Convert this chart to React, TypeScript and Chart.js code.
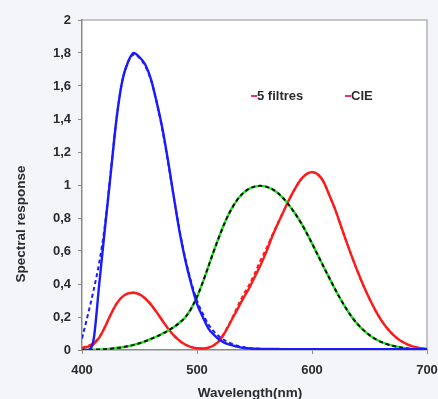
import React, { useEffect, useRef } from "react";
import { Chart, registerables } from "chart.js";

Chart.register(...registerables);

// Wavelength samples (nm)
const wavelengths = [
  400, 405, 410, 415, 420, 425, 430, 435, 440, 445, 450, 455, 460, 465, 470, 475,
  480, 485, 490, 495, 500, 505, 510, 515, 520, 525, 530, 535, 540, 545, 550, 555,
  560, 565, 570, 575, 580, 585, 590, 595, 600, 605, 610, 615, 620, 625, 630, 635,
  640, 645, 650, 655, 660, 665, 670, 675, 680, 685, 690, 695, 700,
];

// Blue channel: 5 filters / CIE
const blueFilters = [
  0, 0, 0.06, 0.4, 0.74, 1.07, 1.4, 1.63, 1.745, 1.8, 1.775, 1.73, 1.64, 1.5, 1.34, 1.14,
  0.92, 0.71, 0.54, 0.4, 0.28, 0.2, 0.13, 0.09, 0.06, 0.04, 0.03, 0.02, 0.013, 0.01, 0.008, 0.007,
  0.006, 0.006, 0.006, 0.005, 0.005, 0.005, 0.005, 0.005, 0.005, 0.005, 0.005, 0.005, 0.005, 0.005, 0.005, 0.005,
  0.005, 0.005, 0.005, 0.005, 0.005, 0.005, 0.005, 0.005, 0.005, 0.005, 0.005, 0.005, 0.005,
];
const blueCIE = [
  0.07, 0.21, 0.36, 0.53, 0.76, 1.08, 1.4, 1.63, 1.745, 1.79, 1.77, 1.72, 1.635, 1.5, 1.33, 1.13,
  0.92, 0.72, 0.55, 0.41, 0.3, 0.22, 0.155, 0.11, 0.078, 0.055, 0.038, 0.026, 0.018, 0.012, 0.009, 0.007,
  0.006, 0.006, 0.006, 0.005, 0.005, 0.005, 0.005, 0.005, 0.005, 0.005, 0.005, 0.005, 0.005, 0.005, 0.005, 0.005,
  0.005, 0.005, 0.005, 0.005, 0.005, 0.005, 0.005, 0.005, 0.005, 0.005, 0.005, 0.005, 0.005,
];

// Green channel: 5 filters / CIE
const greenFilters = [
  0, 0.001, 0.002, 0.003, 0.005, 0.008, 0.012, 0.017, 0.023, 0.031, 0.041, 0.053, 0.067, 0.082, 0.099, 0.118,
  0.14, 0.166, 0.2, 0.252, 0.322, 0.41, 0.508, 0.607, 0.7, 0.785, 0.855, 0.91, 0.95, 0.976, 0.99, 0.995,
  0.99, 0.976, 0.953, 0.92, 0.878, 0.83, 0.776, 0.714, 0.646, 0.576, 0.506, 0.437, 0.37, 0.306, 0.248, 0.197,
  0.154, 0.119, 0.09, 0.067, 0.049, 0.036, 0.026, 0.018, 0.012, 0.008, 0.005, 0.003, 0.002,
];
const greenCIE = [
  0, 0.001, 0.002, 0.003, 0.005, 0.008, 0.012, 0.017, 0.023, 0.031, 0.041, 0.053, 0.067, 0.082, 0.099, 0.118,
  0.14, 0.166, 0.2, 0.252, 0.322, 0.41, 0.508, 0.607, 0.7, 0.785, 0.855, 0.91, 0.95, 0.976, 0.99, 0.995,
  0.99, 0.976, 0.953, 0.92, 0.878, 0.83, 0.776, 0.714, 0.646, 0.576, 0.506, 0.437, 0.37, 0.306, 0.248, 0.197,
  0.154, 0.119, 0.09, 0.067, 0.049, 0.036, 0.026, 0.018, 0.012, 0.008, 0.005, 0.003, 0.002,
];

// Red channel: 5 filters / CIE
const redFilters = [
  0.01, 0.02, 0.035, 0.075, 0.14, 0.215, 0.28, 0.322, 0.343, 0.347, 0.337, 0.312, 0.275, 0.228, 0.177, 0.128,
  0.087, 0.055, 0.032, 0.018, 0.011, 0.009, 0.014, 0.03, 0.06, 0.115, 0.18, 0.245, 0.31, 0.37, 0.44, 0.51,
  0.59, 0.68, 0.76, 0.835, 0.91, 0.975, 1.03, 1.065, 1.078, 1.065, 1.02, 0.94, 0.855, 0.755, 0.655, 0.56,
  0.47, 0.386, 0.31, 0.242, 0.183, 0.135, 0.096, 0.066, 0.044, 0.028, 0.017, 0.01, 0.006,
];
const redCIE = [
  0.014, 0.025, 0.043, 0.08, 0.14, 0.215, 0.28, 0.322, 0.343, 0.347, 0.337, 0.312, 0.275, 0.228, 0.177, 0.128,
  0.087, 0.055, 0.032, 0.018, 0.011, 0.009, 0.014, 0.03, 0.062, 0.12, 0.185, 0.26, 0.33, 0.39, 0.46, 0.54,
  0.61, 0.69, 0.765, 0.838, 0.91, 0.975, 1.03, 1.065, 1.078, 1.065, 1.02, 0.94, 0.855, 0.755, 0.655, 0.56,
  0.47, 0.386, 0.31, 0.242, 0.183, 0.135, 0.096, 0.066, 0.044, 0.028, 0.017, 0.01, 0.006,
];

const legendLabels = ["5 filtres", "CIE"];
const xTitle = "Wavelength(nm)";
const yTitle = "Spectral response";

const FONT = "'Liberation Sans', Arial, sans-serif";
const TEXT = "#2b2b2b";

const toPoints = (ys: number[]) => ys.map((y, i) => ({ x: wavelengths[i], y }));

const solid = (label: string, ys: number[], color: string) => ({
  label,
  data: toPoints(ys),
  borderColor: color,
  borderWidth: 2.4,
  pointRadius: 0,
  fill: false,
  cubicInterpolationMode: "monotone" as const,
});

const dashed = (label: string, ys: number[], color: string) => ({
  label,
  data: toPoints(ys),
  borderColor: color,
  borderWidth: 2,
  borderDash: [4, 3],
  pointRadius: 0,
  fill: false,
  cubicInterpolationMode: "monotone" as const,
});

const framePlugin = {
  id: "frame",
  beforeDraw(chart: any) {
    const { ctx, chartArea: a, width, height } = chart;
    ctx.save();
    ctx.fillStyle = "#f3f5f9";
    ctx.fillRect(0, 0, width, height);
    ctx.fillStyle = "#ffffff";
    ctx.fillRect(a.left, a.top, a.right - a.left, a.bottom - a.top);
    ctx.strokeStyle = "#b4b4b4";
    ctx.lineWidth = 1.5;
    ctx.beginPath();
    ctx.moveTo(a.left, a.top);
    ctx.lineTo(a.right, a.top);
    ctx.lineTo(a.right, a.bottom);
    ctx.stroke();
    ctx.restore();
  },
  afterDraw(chart: any) {
    const { ctx } = chart;
    ctx.save();
    ctx.fillStyle = TEXT;
    ctx.textBaseline = "middle";

    // axis titles
    ctx.font = `bold 13.5px ${FONT}`;
    ctx.textAlign = "center";
    ctx.fillText(xTitle, 250, 393);
    ctx.save();
    ctx.translate(21, 224);
    ctx.rotate(-Math.PI / 2);
    ctx.fillText(yTitle, 0, 0);
    ctx.restore();

    // legend
    ctx.font = `bold 13px ${FONT}`;
    const entries = [
      { x: 251, text: legendLabels[0] },
      { x: 345, text: legendLabels[1] },
    ];
    const ly = 96;
    ctx.textAlign = "left";
    for (const e of entries) {
      ctx.strokeStyle = "#e8336e";
      ctx.lineWidth = 2;
      ctx.beginPath();
      ctx.moveTo(e.x, ly);
      ctx.lineTo(e.x + 6, ly);
      ctx.stroke();
      ctx.fillStyle = TEXT;
      ctx.fillText(e.text, e.x + 6, ly);
    }
    ctx.restore();
  },
};

export default function App() {
  const canvasRef = useRef<HTMLCanvasElement | null>(null);

  useEffect(() => {
    document.body.style.margin = "0";
    document.body.style.background = "#f3f5f9";
    const canvas = canvasRef.current;
    if (!canvas) return;

    // Chart.js paints dataset 0 last, so the dashed CIE curves come first
    const chart = new Chart(canvas, {
      type: "line",
      data: {
        datasets: [
          dashed(legendLabels[1], blueCIE, "#1a1aff"),
          solid(legendLabels[0], blueFilters, "#1a1aff"),
          dashed(legendLabels[1], greenCIE, "#111111"),
          solid(legendLabels[0], greenFilters, "#1ee01e"),
          dashed(legendLabels[1], redCIE, "#ff1a1a"),
          solid(legendLabels[0], redFilters, "#ff1a1a"),
        ],
      },
      options: {
        responsive: false,
        animation: false,
        layout: { padding: { left: 0, right: 11, top: 20, bottom: 0 } },
        plugins: {
          legend: { display: false },
          tooltip: { enabled: false },
        },
        scales: {
          x: {
            type: "linear",
            min: 400,
            max: 700,
            afterFit: (s: any) => {
              s.height = 49;
              s.paddingLeft = 0;
              s.paddingRight = 0;
            },
            ticks: {
              stepSize: 100,
              padding: 9,
              color: TEXT,
              font: { family: FONT, size: 13, weight: "bold" },
            },
            grid: {
              drawOnChartArea: false,
              tickLength: 4,
              tickColor: "#8a8a8a",
            },
            border: { color: "#8a8a8a", width: 1.5 },
          },
          y: {
            min: 0,
            max: 2,
            afterFit: (s: any) => {
              s.width = 82;
              s.paddingTop = 0;
              s.paddingBottom = 0;
            },
            ticks: {
              stepSize: 0.2,
              padding: 7,
              color: TEXT,
              font: { family: FONT, size: 13, weight: "bold" },
              callback: (v: any) => {
                const n = Math.round(Number(v) * 10) / 10;
                return Number.isInteger(n) ? String(n) : n.toFixed(1).replace(".", ",");
              },
            },
            grid: {
              drawOnChartArea: false,
              tickLength: 4,
              tickColor: "#8a8a8a",
            },
            border: { color: "#8a8a8a", width: 1.5 },
          },
        },
      },
      plugins: [framePlugin],
    });

    return () => chart.destroy();
  }, []);

  return (
    <div style={{ width: 438, height: 399 }}>
      <canvas ref={canvasRef} width={438} height={399} style={{ display: "block" }} />
    </div>
  );
}
